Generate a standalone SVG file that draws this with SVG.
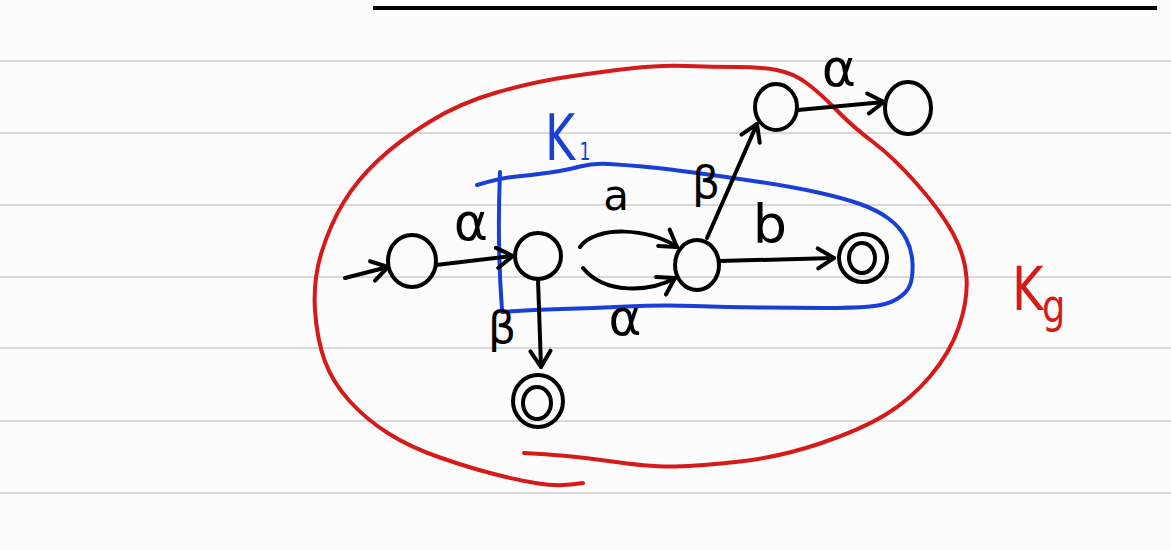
<svg xmlns="http://www.w3.org/2000/svg" width="1171" height="550" viewBox="0 0 1171 550">
<style>
.rule{stroke:#d9d9d9;stroke-width:2}
.node{fill:none;stroke:#000;stroke-width:4}
.edge{fill:none;stroke:#000;stroke-width:4;stroke-linecap:round;stroke-linejoin:round}
.lbl{font-family:"DejaVu Sans",sans-serif;fill:#000;text-anchor:middle}
.blue{fill:none;stroke:#1a3fd6;stroke-width:4;stroke-linecap:round;stroke-linejoin:round}
.red{fill:none;stroke:#d61a1a;stroke-width:4;stroke-linecap:round;stroke-linejoin:round}
</style>
<defs>
<marker id="arr" viewBox="0 0 22 26" markerWidth="22" markerHeight="26" refX="19" refY="13" orient="auto" markerUnits="userSpaceOnUse">
<path d="M3,3 L19,13 L3,23" fill="none" stroke="#000" stroke-width="4" stroke-linecap="round" stroke-linejoin="round"/>
</marker>
</defs>
<rect width="1171" height="550" fill="#fcfcfc"/>
<g id="paper">
<line class="rule" x1="0" y1="61" x2="1171" y2="61"/>
<line class="rule" x1="0" y1="133" x2="1171" y2="133"/>
<line class="rule" x1="0" y1="205" x2="1171" y2="205"/>
<line class="rule" x1="0" y1="277" x2="1171" y2="277"/>
<line class="rule" x1="0" y1="348" x2="1171" y2="348"/>
<line class="rule" x1="0" y1="421" x2="1171" y2="421"/>
<line class="rule" x1="0" y1="493" x2="1171" y2="493"/>
<line x1="373" y1="8" x2="1157" y2="8" stroke="#000" stroke-width="4"/>
</g>
<g id="Kg">
<path class="red" d="M524,453 Q567,455 608.5,461 Q650,467 675,466.5 Q700,466 740,461.5 Q780,457 820,443.5 Q860,430 885,415 Q910,400 930,376.5 Q950,353 959,326.5 Q968,300 966.5,277.5 Q965,255 952.5,232.5 Q940,210 916.5,183.5 Q893,157 873,142 Q853,127 836.5,110 Q820,93 806.5,83 Q793,73 776.5,70 Q760,67 736.5,67 Q713,67 686.5,66 Q660,65 630,68.5 Q600,72 566.5,77 Q533,82 496.5,92.5 Q460,103 430,121.5 Q400,140 378.5,160 Q357,180 343.5,202.5 Q330,225 321.5,252.5 Q313,280 315,310 Q317,340 325,361.5 Q333,383 350,401.5 Q367,420 388.5,433.5 Q410,447 438.5,457 Q467,467 492,473.5 Q517,480 538.5,483.5 Q560,487 583,483"/>
<text transform="translate(1012,310) scale(0.8,1)" font-family="DejaVu Sans,sans-serif" font-size="60" fill="#d61a1a">K<tspan font-size="46" dx="-2" dy="12">g</tspan></text>
</g>
<g id="K1">
<path class="blue" d="M477,185 Q500,178 516.5,176.5 Q533,175 550,172.5 Q567,170 580,166.5 Q593,163 609,164 Q625,165 642.5,166.5 Q660,168 693.5,172.5 Q727,177 760,182 Q793,187 818,192.5 Q843,198 860,204 Q877,210 888.5,218.5 Q900,227 906,238.5 Q912,250 912.5,263.5 Q913,277 910,285 Q907,293 897,299 Q887,305 870,306.5 Q853,308 823,308 Q793,308 760,307.5 Q727,307 693.5,306 Q660,305 626.5,306.5 Q593,308 561.5,309 Q530,310 502,312"/>
<path class="blue" d="M500,172 C498,220 499,270 502,310"/>
<text transform="translate(545,160) scale(0.72,1)" font-family="DejaVu Sans,sans-serif" font-size="64" fill="#1a3fd6">K<tspan font-size="24" dx="6">1</tspan></text>
</g>
<g id="q0"><ellipse class="node" cx="412" cy="261" rx="24" ry="26"/></g>
<g id="q1"><ellipse class="node" cx="538" cy="256" rx="23" ry="23"/></g>
<g id="q2"><ellipse class="node" cx="697" cy="265" rx="22" ry="25"/></g>
<g id="q3"><ellipse class="node" cx="776" cy="107" rx="21" ry="23"/></g>
<g id="q4"><ellipse class="node" cx="908" cy="108" rx="23" ry="26"/></g>
<g id="q5"><ellipse class="node" cx="863" cy="258" rx="24" ry="24"/><ellipse class="node" cx="862" cy="258" rx="13" ry="15"/></g>
<g id="q6"><ellipse class="node" cx="538" cy="401" rx="25" ry="26"/><ellipse class="node" cx="537" cy="403" rx="14" ry="16"/></g>
<g id="connectors">
<path class="edge" d="M345,278 L388,267" marker-end="url(#arr)"/>
<path class="edge" d="M436,265 L513,256" marker-end="url(#arr)"/>
<path class="edge" d="M580,247 C595,225 650,228 677,247" marker-end="url(#arr)"/>
<path class="edge" d="M583,268 C605,295 650,292 675,278" marker-end="url(#arr)"/>
<path class="edge" d="M719,261 L834,258" marker-end="url(#arr)"/>
<path class="edge" d="M707,238 L757,124" marker-end="url(#arr)"/>
<path class="edge" d="M798,110 L884,102" marker-end="url(#arr)"/>
<path class="edge" d="M538,279 L541,367" marker-end="url(#arr)"/>
</g>
<g id="labels">
<text class="lbl" x="471" y="240" font-size="52">α</text>
<text class="lbl" x="616" y="210" font-size="42">a</text>
<text class="lbl" x="625" y="335" font-size="50">α</text>
<text class="lbl" x="770" y="243" font-size="54">b</text>
<text class="lbl" x="706" y="198" font-size="44">β</text>
<text class="lbl" x="502" y="343" font-size="44">β</text>
<text class="lbl" x="839" y="86" font-size="52">α</text>
</g>
</svg>
